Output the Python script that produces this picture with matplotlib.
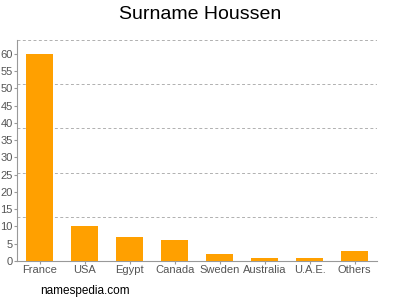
import matplotlib.pyplot as plt
import numpy as np

plt.rcParams['font.family'] = ['Liberation Sans', 'DejaVu Sans']

countries = ["France", "USA", "Egypt", "Canada", "Sweden", "Australia", "U.A.E.", "Others"]
counts = [60, 10, 7, 6, 2, 1, 1, 3]

fig = plt.figure(figsize=(4, 3), dpi=100)
ax = fig.add_axes([0.0435, 0.13, 0.899, 0.7367])

x = np.arange(len(countries))
ax.bar(x, counts, width=0.6, color="#FFA000", zorder=3)

ymax = 64
ax.set_ylim(0, ymax)
ax.set_xlim(-0.5, len(countries) - 0.5)
ax.set_yticks(np.arange(0, 61, 5))
ax.set_xticks(x)
ax.set_xticklabels(countries)

for g in np.linspace(0, ymax, 6)[1:]:
    ax.axhline(g, color="#b0b0b0", linestyle=(0, (3, 2.5)), linewidth=0.7, zorder=1)

for s in ["top", "right"]:
    ax.spines[s].set_visible(False)
for s in ["left", "bottom"]:
    ax.spines[s].set_color("#999999")
ax.tick_params(colors="#999999", labelcolor="#555555", labelsize=8, length=2.2, width=0.8, pad=1)

fig.text(0.5, 0.952, "Surname Houssen", ha="center", va="center", fontsize=14, color="#000000")
fig.text(0.1, 0.03, "namespedia.com", ha="left", va="center", fontsize=8.5, color="#000000")

fig.savefig("out.png", dpi=100)
